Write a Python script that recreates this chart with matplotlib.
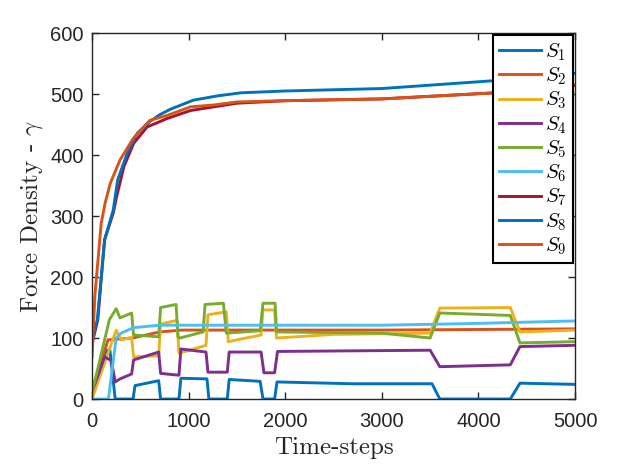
import matplotlib.pyplot as plt
import numpy as np

# MATLAB default line colours
COLORS = ["#0072BD", "#D95319", "#EDB120", "#7E2F8E", "#77AC30",
          "#4DBEEE", "#A2142F", "#0072BD", "#D95319"]

# S1 - lower blue, switching on/off
t1 = [0, 100, 150, 185, 240, 425, 445, 690, 710, 900, 920, 1190, 1210, 1400, 1420,
      1740, 1770, 1890, 1915, 2700, 3520, 3600, 4330, 4430, 5000]
s1 = [3, 60, 80, 80, 0, 0, 22, 30, 0, 0, 34, 33, 0, 0, 32,
      29, 0, 0, 28, 25, 25, 0, 0, 26, 24]

# S2 - lower orange
t2 = [0, 166, 420, 700, 930, 2000, 3000, 4000, 5000]
s2 = [15, 97, 100, 110, 113, 113, 113, 114, 115]

# S3 - yellow
t3 = [0, 250, 300, 410, 430, 690, 710, 880, 900, 1180, 1200, 1390, 1410, 1750, 1770,
      1890, 1910, 2500, 3500, 3600, 4330, 4430, 5000]
s3 = [0, 113, 97, 101, 69, 71, 123, 129, 75, 88, 138, 143, 94, 105, 146,
      146, 100, 106, 108, 149, 150, 110, 113]

# S4 - purple
t4 = [0, 130, 200, 240, 290, 410, 430, 690, 710, 900, 920, 1180, 1200, 1400, 1420,
      1750, 1780, 1890, 1920, 3500, 3600, 4330, 4430, 5000]
s4 = [12, 69, 63, 28, 33, 41, 64, 77, 42, 39, 82, 77, 44, 44, 77,
      77, 43, 43, 78, 80, 53, 56, 86, 88]

# S5 - green
t5 = [0, 180, 250, 290, 410, 430, 690, 710, 870, 890, 910, 1150, 1170, 1360, 1390,
      1740, 1770, 1895, 1910, 3000, 3500, 3600, 4330, 4430, 5000]
s5 = [10, 130, 148, 133, 141, 105, 102, 150, 155, 102, 100, 110, 155, 157, 108,
      112, 157, 157, 110, 108, 100, 141, 137, 92, 94]

# S6 - light blue
t6 = [0, 170, 250, 300, 430, 700, 1000, 2000, 3000, 4000, 5000]
s6 = [0, 0, 100, 108, 117, 121, 121, 121, 121, 124, 128]

# S7 - dark red, upper
t7 = [0, 60, 130, 220, 255, 330, 430, 570, 780, 1020, 1260, 1500, 2000, 3000, 4170, 5000]
s7 = [90, 130, 261, 305, 332, 381, 419, 446, 460, 473, 479, 485, 489, 492, 502, 514]

# S8 - blue, upper
t8 = [0, 55, 130, 220, 265, 365, 470, 600, 700, 810, 1050, 1300, 1540, 2000, 3000, 4170, 5000]
s8 = [95, 130, 261, 310, 359, 403, 436, 455, 466, 475, 490, 497, 502, 505, 509, 522, 534]

# S9 - orange, upper
t9 = [0, 30, 95, 135, 190, 290, 430, 600, 780, 1020, 1260, 1500, 1950, 3000, 4170, 5000]
s9 = [69, 170, 288, 321, 354, 392, 428, 457, 465, 479, 482, 487, 489, 492, 502, 515]

times = [t1, t2, t3, t4, t5, t6, t7, t8, t9]
series = [s1, s2, s3, s4, s5, s6, s7, s8, s9]
labels = [r"$S_{%d}$" % (i + 1) for i in range(9)]

plt.rcParams["mathtext.fontset"] = "cm"
plt.rcParams["font.family"] = ["Liberation Sans", "DejaVu Sans"]

fig = plt.figure(figsize=(6.23, 4.68), dpi=100)
ax = fig.add_axes([0.1477, 0.1474, 0.7753, 0.782])

for t, s, c, lab in zip(times, series, COLORS, labels):
    ax.plot(t, s, color=c, linewidth=2.1, label=lab)

ax.set_xlim(0, 5000)
ax.set_ylim(0, 600)
ax.set_xticks(np.arange(0, 5001, 1000))
ax.set_yticks(np.arange(0, 601, 100))
ax.tick_params(direction="in", top=True, right=True, length=5, width=1,
               labelsize=14.5, colors="#262626")
ax.tick_params(axis="x", pad=9.5)
ax.tick_params(axis="y", pad=6)
for sp in ax.spines.values():
    sp.set_color("#262626")
    sp.set_linewidth(1.0)

ax.set_xlabel("Time-steps", fontsize=18, family="cmr10", color="#262626", labelpad=4)
ax.set_ylabel(r"Force Density - $\gamma$", fontsize=18, family="cmr10",
              color="#262626", labelpad=4)

leg = ax.legend(loc="upper right", fontsize=15, frameon=True, fancybox=False,
                edgecolor="k", framealpha=1, borderaxespad=0.1,
                handlelength=2.0, handletextpad=0.2, labelspacing=0.13,
                borderpad=0.3)
leg.get_frame().set_linewidth(1.5)

fig.savefig("out.png", dpi=100)
